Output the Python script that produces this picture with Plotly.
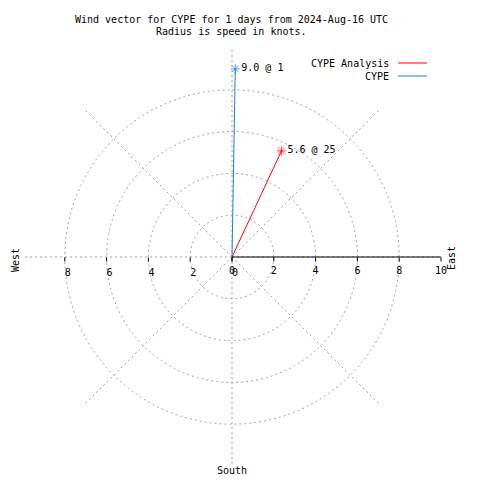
import plotly.graph_objects as go

# ---- data ----
series_names = ["CYPE Analysis", "CYPE"]
speeds = [5.6, 9.0]          # knots
directions = [25, 1]         # degrees (compass)
series_colors = ["#ff0000", "#1a7ee6"]
radial_ticks = [0, 2, 4, 6, 8, 10]
west_ticks = [0, 2, 4, 6, 8]
angle_grid = [0, 45, 90, 135, 180, 225, 270, 315]
title_lines = ["Wind vector for CYPE for 1 days from 2024-Aug-16 UTC",
               "Radius is speed in knots."]

W = H = 472   # page body has an 8px margin
OFF = 8


def px(x):
    return (x - OFF) / W


def py(y):
    return 1 - (y - OFF) / H


FONT = dict(family="DejaVu Sans Mono", size=10, color="black")
GRID = "#a0a0a0"
GDASH = "2px,3px"
dom = dict(x=[px(23), px(441)], y=[py(466), py(48)])

fig = go.Figure()

for name, s, d, c in zip(series_names, speeds, directions, series_colors):
    fig.add_trace(go.Scatterpolar(
        r=[0, s], theta=[d, d], mode="lines+markers+text",
        line=dict(color=c, width=1),
        marker=dict(symbol="asterisk-open", size=[0, 8], color=c, line=dict(color=c, width=1)),
        text=["", f"{s:.1f} @ {d}"], textposition="middle right",
        textfont=FONT, name=name, showlegend=False, subplot="polar",
    ))

# invisible trace to activate second polar (west labels)
fig.add_trace(go.Scatterpolar(r=[0], theta=[0], mode="markers",
                              marker=dict(size=0, opacity=0), showlegend=False,
                              hoverinfo="skip", subplot="polar2"))

fig.update_layout(
    width=W, height=H, margin=dict(l=0, r=0, t=0, b=0),
    paper_bgcolor="white", font=FONT, showlegend=False,
    polar=dict(
        domain=dom, bgcolor="white",
        radialaxis=dict(range=[0, 10], angle=0, tickvals=radial_ticks,
                        showline=True, linecolor="black", linewidth=1,
                        showgrid=True, gridcolor=GRID, griddash=GDASH, gridwidth=1,
                        ticks="outside", ticklen=4, tickcolor="black", tickfont=FONT),
        angularaxis=dict(rotation=90, direction="clockwise", tickvals=angle_grid,
                         showticklabels=False, ticks="", showline=False,
                         showgrid=True, gridcolor=GRID, griddash=GDASH, gridwidth=1),
    ),
    polar2=dict(
        domain=dom, bgcolor="rgba(0,0,0,0)",
        radialaxis=dict(range=[0, 10], angle=180, side="counterclockwise", tickangle=180,
                        tickvals=west_ticks, showline=False, showgrid=False,
                        ticks="outside", ticklen=4, tickcolor="black", tickfont=FONT),
        angularaxis=dict(visible=False, showgrid=False),
    ),
)

annotations = [
    dict(text=title_lines[0], x=px(231), y=py(19)),
    dict(text=title_lines[1], x=px(231), y=py(32)),
    dict(text="West", x=px(15), y=py(260), textangle=-90),
    dict(text="East", x=px(451), y=py(258), textangle=-90),
    dict(text="South", x=px(232), y=py(470)),
]
for a in annotations:
    fig.add_annotation(xref="paper", yref="paper", showarrow=False, font=FONT,
                       xanchor="center", yanchor="middle", **a)

# legend (text left of sample line, gnuplot style)
for i, (name, c) in enumerate(zip(series_names, series_colors)):
    yy = py(63 + 13 * i)
    fig.add_annotation(xref="paper", yref="paper", showarrow=False, font=FONT,
                       text=name, x=px(391), y=yy, xanchor="right", yanchor="middle")
    fig.add_shape(type="line", xref="paper", yref="paper",
                  x0=px(398), x1=px(427), y0=yy, y1=yy, line=dict(color=c, width=1))

fig.write_html("out.html")
